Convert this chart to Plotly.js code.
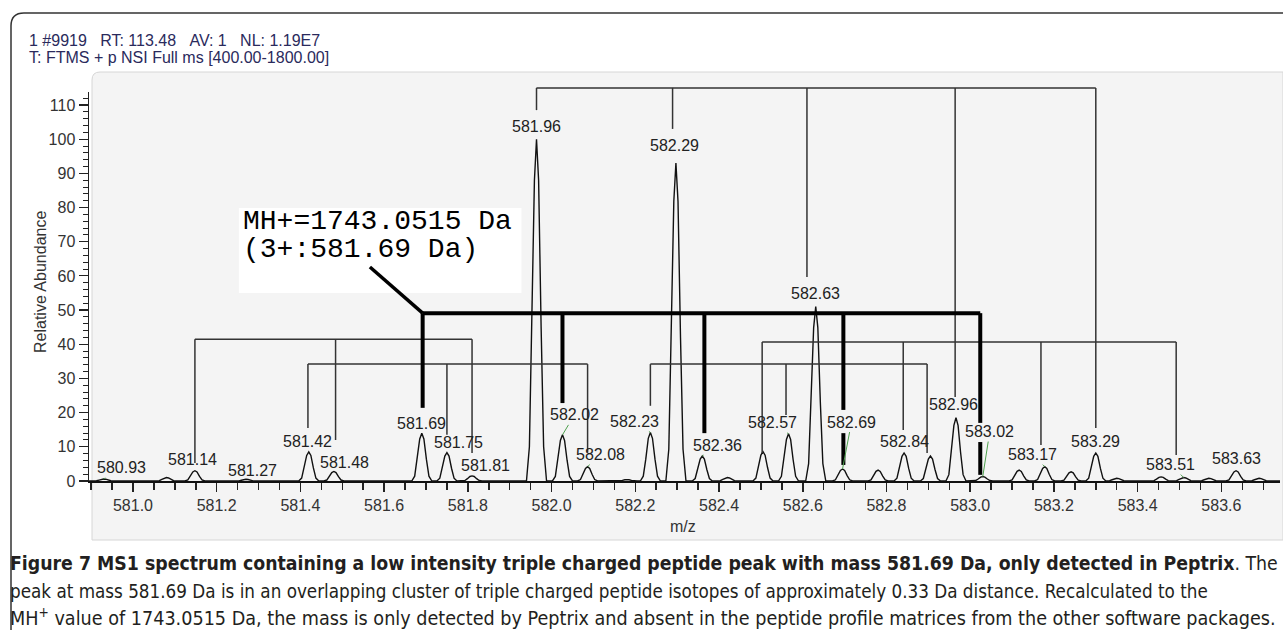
<!DOCTYPE html>
<html><head><meta charset="utf-8">
<script src="https://cdn.plot.ly/plotly-3.0.1.min.js"></script>
<style>html,body{margin:0;padding:0;background:#fff;}#chart{width:1283px;height:630px;}</style>
</head><body><div id="chart"></div>
<script>
// ---- spectrum peaks (m/z, relative abundance %) ----
const peakMz  = [580.930, 581.080, 581.148, 581.270, 581.420, 581.480, 581.690, 581.750, 581.810, 581.964,
                 582.026, 582.086, 582.180, 582.236, 582.297, 582.360, 582.420, 582.505, 582.566, 582.631,
                 582.695, 582.780, 582.842, 582.905, 582.966, 583.030, 583.117, 583.178, 583.241, 583.300,
                 583.350, 583.456, 583.510, 583.570, 583.635, 583.690];
const peakInt = [0.6, 1.0, 3.0, 0.5, 8.5, 2.8, 14.0, 8.3, 1.5, 100,
                 13.5, 4.2, 0.4, 14.2, 93, 7.3, 1.0, 8.6, 13.8, 51,
                 3.5, 3.2, 8.2, 7.3, 18.5, 1.3, 3.2, 4.2, 2.7, 8.2,
                 0.8, 1.2, 1.0, 0.8, 3.0, 0.8];

// ---- peak labels ----
const labelText = ['580.93','581.14','581.27','581.42','581.48','581.69','581.75','581.81','581.96','582.02',
                   '582.08','582.23','582.29','582.36','582.57','582.63','582.69','582.84','582.96','583.02',
                   '583.17','583.29','583.51','583.63'];

// ---- isotope cluster brackets (m/z of drops, lower end of each drop, level) ----
const clusterA_mz  = [581.964, 582.289, 582.610, 582.964, 583.300];
const clusterA_end = [108.5, 103.0, 59.7, 24.6, 15.5];
const clusterA_top = 115.0;
const clusterC_mz  = [581.148, 581.484, 581.810];
const clusterC_end = [5.3, 12.0, 8.2];
const clusterC_top = 41.5;
const clusterD1_mz  = [581.418, 581.750, 582.086];
const clusterD1_end = [15.5, 13.5, 8.5];
const clusterD2_mz  = [582.236, 582.560, 582.897];
const clusterD2_end = [22.0, 19.3, 8.2];
const clusterD_top  = 34.2;
const clusterE_mz  = [582.503, 582.840, 583.169, 583.492];
const clusterE_end = [8.2, 14.9, 10.5, 7.6];
const clusterE_top = 40.7;
// highlighted triple-charged cluster (MH+ = 1743.0515 Da)
const boldMz  = [581.692, 582.026, 582.365, 582.697, 583.024];
const boldEnd = [21.4, 22.8, 14.0, 20.8, 17.0];
const boldTop = 49.1;
const boldTailMz  = [582.697, 583.024];
const boldTailTop = [14.0, 11.4];
const boldTailEnd = [4.7, 1.8];

// ---- axis ----
const X_RANGE = [580.895, 583.74];
const Y_MAX = 113.8;

// ---- layout helpers (pixel -> paper) ----
const PL = 89, PR = 1280, PT = 92, PB = 481;
const X = px => (px - PL) / (PR - PL);
const Y = py => (PB - py) / (PB - PT);

// peak drawing template (rendering shape of a profile peak)
const shapeOff = [-0.024, -0.017, -0.011, -0.005, 0, 0.005, 0.011, 0.017, 0.024];
const shapeRel = [0, 0.10, 0.45, 0.88, 1, 0.88, 0.45, 0.10, 0];

const sx = [X_RANGE[0]], sy = [0];
peakMz.forEach((m, i) => {
  shapeOff.forEach((o, k) => { sx.push(m + o); sy.push(peakInt[i] * shapeRel[k]); });
});
sx.push(X_RANGE[1]); sy.push(0);

const traces = [{
  x: sx, y: sy, type: 'scatter', mode: 'lines',
  line: {color: '#111', width: 1.4}, hoverinfo: 'skip', showlegend: false
}];

// label placement (pixel offsets from the peak apex) and leader flags
const labelDx = [18,-2,7,-1,11,0,12,13,0,12,13,-16,-1,15,-16,0,9,0,-2,7,-12,0,-13,0];
const labelDy = [-11,-11,-9,-10,-9,-10,-10,-10,-13,-20,-12,-11,-18,-11,-11,-13,-47,-11,-13,-45,-12,-11,-13,-12];
const leader  = [1,0,1,0,1,0,1,1,0,1,1,1,0,1,1,0,1,0,0,1,1,0,1,0];

const annotations = [];
const lblFont = {family: 'Arial, "Liberation Sans", sans-serif', size: 16, color: '#222'};
labelText.forEach((t, i) => {
  const v = parseFloat(t);
  let best = 0;
  peakMz.forEach((m, j) => { if (Math.abs(m - v) < Math.abs(peakMz[best] - v)) best = j; });
  annotations.push({
    x: peakMz[best], y: peakInt[best], xref: 'x', yref: 'y', text: t,
    showarrow: true, ax: labelDx[i], ay: labelDy[i], arrowhead: 0, standoff: 0,
    arrowwidth: 1, arrowcolor: leader[i] ? '#4ea04e' : 'rgba(0,0,0,0)',
    font: lblFont
  });
});

// MH+ box text
const monoFont = {family: '"Courier New", "Liberation Mono", monospace', size: 28, color: '#000'};
annotations.push({x: 581.258, y: 75.8, xref: 'x', yref: 'y', xanchor: 'left', yanchor: 'middle',
  text: 'MH+=1743.0515 Da', showarrow: false, font: monoFont});
annotations.push({x: 581.258, y: 67.6, xref: 'x', yref: 'y', xanchor: 'left', yanchor: 'middle',
  text: '(3+:581.69 Da)', showarrow: false, font: monoFont});

// header
const hdrFont = {family: 'Arial, "Liberation Sans", sans-serif', size: 16, color: '#2a2a5c'};
annotations.push({x: X(27), y: Y(40), xref: 'paper', yref: 'paper', xanchor: 'left', yanchor: 'middle',
  text: '1 #9919\u00a0\u00a0\u00a0RT: 113.48\u00a0\u00a0\u00a0AV: 1\u00a0\u00a0\u00a0NL: 1.19E7', showarrow: false, font: hdrFont});
annotations.push({x: X(27), y: Y(57), xref: 'paper', yref: 'paper', xanchor: 'left', yanchor: 'middle',
  text: 'T: FTMS + p NSI Full ms [400.00-1800.00]', showarrow: false, font: hdrFont});

// axis titles
const axFont = {family: 'Arial, "Liberation Sans", sans-serif', size: 16, color: '#333'};
annotations.push({x: X(40), y: Y(282), xref: 'paper', yref: 'paper', xanchor: 'center', yanchor: 'middle',
  text: 'Relative Abundance', textangle: -90, showarrow: false, font: axFont});
annotations.push({x: X(683), y: Y(526), xref: 'paper', yref: 'paper', xanchor: 'center', yanchor: 'middle',
  text: 'm/z', showarrow: false, font: axFont});

// caption
const capFamily = '"Liberation Sans Narrow", "Arial Narrow", "DejaVu Sans Condensed", sans-serif';
const capLines = [
  '<b>Figure 7 MS1 spectrum containing a low intensity triple charged peptide peak with mass 581.69 Da, only detected in Peptrix</b>. The',
  'peak at mass 581.69 Da is in an overlapping cluster of triple charged peptide isotopes of approximately 0.33 Da distance. Recalculated to the',
  'MH<sup>+</sup> value of 1743.0515 Da, the mass is only detected by Peptrix and absent in the peptide profile matrices from the other software packages.'
];
const capY = [563, 591, 617];
const capSize = [19.3, 18.7, 19.6];
capLines.forEach((t, i) => annotations.push({x: X(8), y: Y(capY[i]), xref: 'paper', yref: 'paper',
  xanchor: 'left', yanchor: 'middle', text: t, showarrow: false,
  font: {family: capFamily, size: capSize[i], color: '#231f20'}}));

// ---- shapes ----
const shapes = [];
// gray chart panel
shapes.push({type: 'path', xref: 'paper', yref: 'paper', layer: 'below',
  path: `M ${X(92)} ${Y(540)} L ${X(92)} ${Y(80)} Q ${X(92)} ${Y(72)} ${X(100)} ${Y(72)} L ${X(1283)} ${Y(72)} L ${X(1283)} ${Y(540)} Z`,
  fillcolor: '#f4f4f4', line: {color: '#d6d6d6', width: 1}});
// outer frame
shapes.push({type: 'path', xref: 'paper', yref: 'paper', layer: 'below',
  path: `M ${X(11)} ${Y(640)} L ${X(11)} ${Y(26)} Q ${X(11)} ${Y(13)} ${X(24)} ${Y(13)} L ${X(1290)} ${Y(13)}`,
  line: {color: '#333', width: 1.5}});

function bracket(mz, ends, top, usePaper, w, col) {
  const yr = usePaper ? 'paper' : 'y';
  const f = v => usePaper ? v / Y_MAX : v;
  shapes.push({type: 'line', xref: 'x', yref: yr, x0: mz[0], x1: mz[mz.length - 1], y0: f(top), y1: f(top),
    line: {color: col, width: w}});
  mz.forEach((m, i) => shapes.push({type: 'line', xref: 'x', yref: yr, x0: m, x1: m, y0: f(top), y1: f(ends[i]),
    line: {color: col, width: w}}));
}
bracket(clusterA_mz, clusterA_end, clusterA_top, true, 1.5, '#333');
bracket(clusterC_mz, clusterC_end, clusterC_top, false, 1.5, '#333');
bracket(clusterD1_mz, clusterD1_end, clusterD_top, false, 1.5, '#333');
bracket(clusterD2_mz, clusterD2_end, clusterD_top, false, 1.5, '#333');
bracket(clusterE_mz, clusterE_end, clusterE_top, false, 1.5, '#333');
bracket(boldMz, boldEnd, boldTop, false, 4, '#000');
boldTailMz.forEach((m, i) => shapes.push({type: 'line', xref: 'x', yref: 'y', x0: m, x1: m,
  y0: boldTailTop[i], y1: boldTailEnd[i], line: {color: '#000', width: 4}}));
// pointer from MH+ box to the cluster
shapes.push({type: 'line', xref: 'x', yref: 'y', x0: 581.566, y0: 62.6, x1: boldMz[0], y1: boldTop,
  line: {color: '#000', width: 3.5}});
// white MH+ box
shapes.push({type: 'rect', xref: 'x', yref: 'y', layer: 'below', x0: 581.253, x1: 581.928, y0: 55.0, y1: 79.9,
  fillcolor: '#ffffff', line: {width: 0}});

const tickFont = {family: 'Arial, "Liberation Sans", sans-serif', size: 16, color: '#333'};
const layout = {
  width: 1283, height: 630,
  margin: {l: PL, r: 1283 - PR, t: PT, b: 630 - PB, pad: 0},
  paper_bgcolor: '#fff', plot_bgcolor: 'rgba(0,0,0,0)',
  showlegend: false,
  xaxis: {range: X_RANGE, showgrid: false, zeroline: false, showline: true, linecolor: '#111', linewidth: 2,
    ticks: 'outside', ticklen: 9, tickwidth: 1.5, tickcolor: '#222', dtick: 0.2, tick0: 581.0, tickformat: '.1f',
    tickfont: tickFont,
    minor: {dtick: 0.05, tick0: 581.0, ticks: 'outside', ticklen: 7, tickwidth: 1.5, tickcolor: '#222'}},
  yaxis: {range: [0, Y_MAX], showgrid: false, zeroline: false, showline: true, linecolor: '#222', linewidth: 1.5,
    ticks: 'outside', ticklen: 9, tickwidth: 1.2, tickcolor: '#222', dtick: 10, tick0: 0,
    tickfont: tickFont,
    minor: {dtick: 2, tick0: 0, ticks: 'outside', ticklen: 5, tickwidth: 1, tickcolor: '#222'}},
  annotations: annotations,
  shapes: shapes
};
Plotly.newPlot('chart', traces, layout, {displayModeBar: false, staticPlot: true});
</script>
</body></html>
